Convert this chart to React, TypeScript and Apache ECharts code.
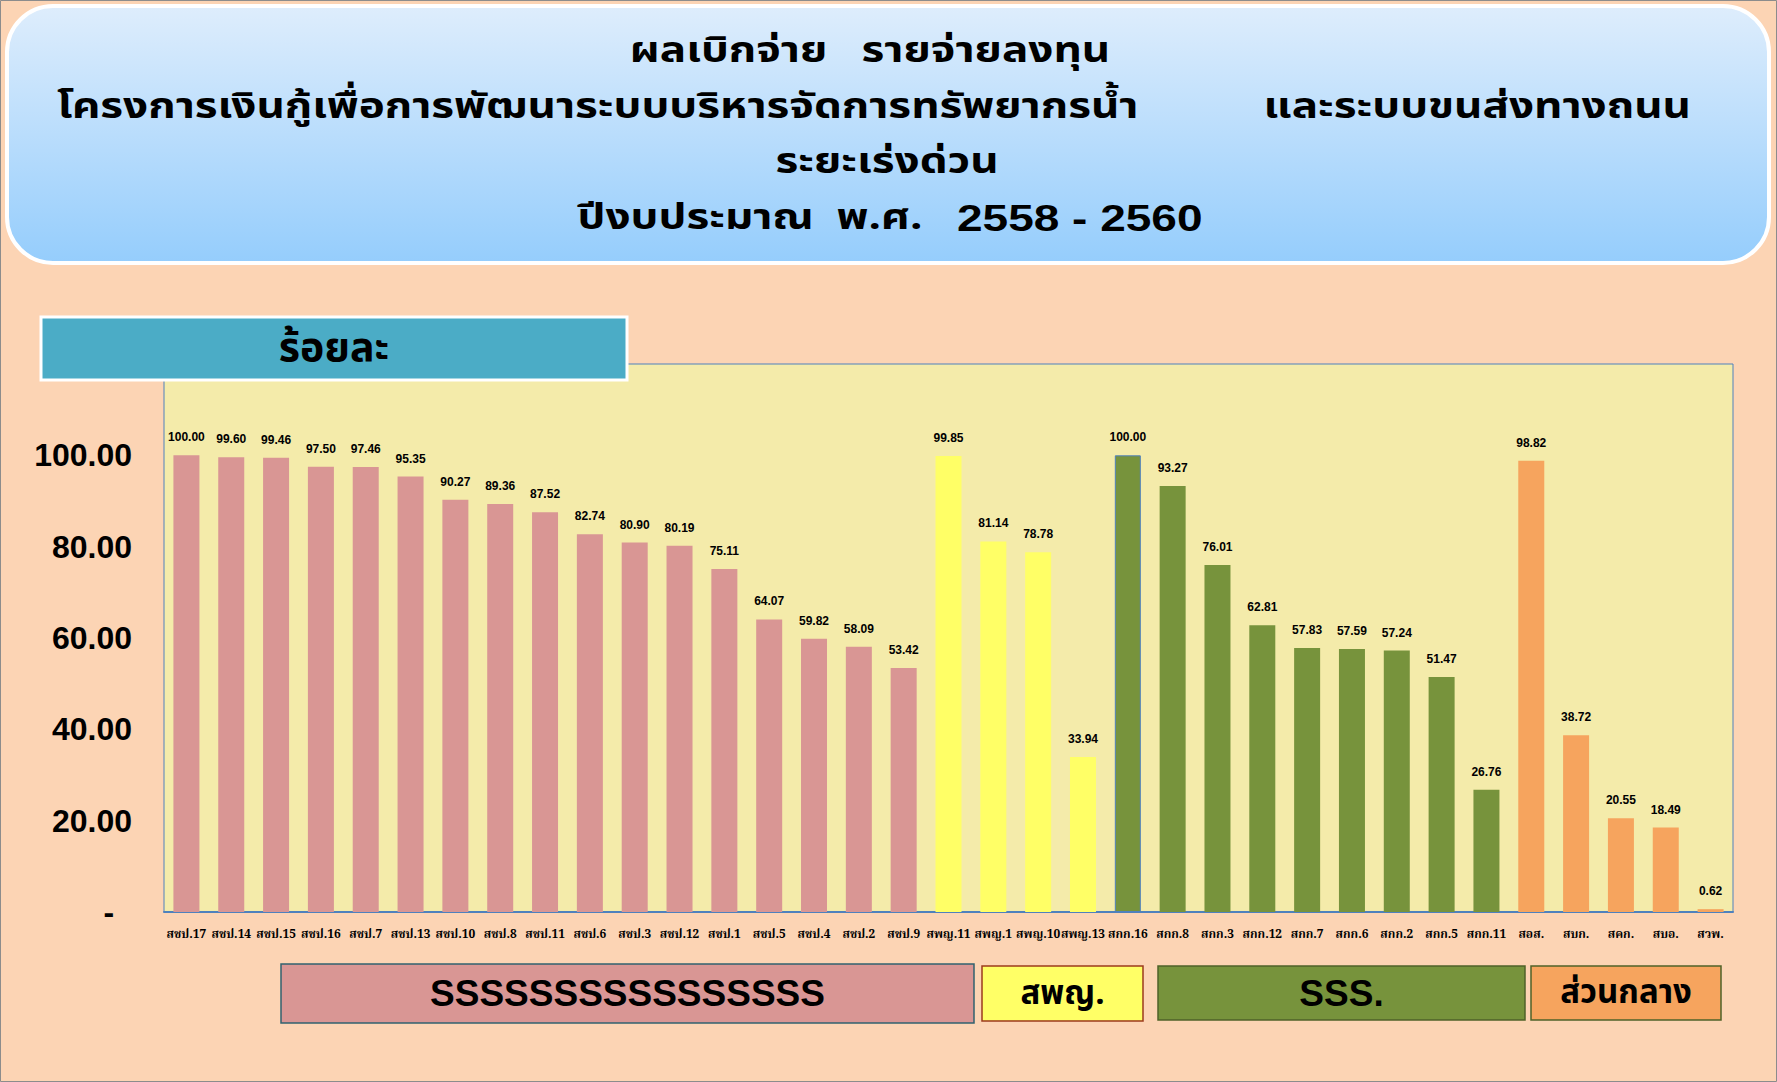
import React, { useEffect, useRef } from "react";
import * as echarts from "echarts";

const pinkCats = ["สชป.17", "สชป.14", "สชป.15", "สชป.16", "สชป.7", "สชป.13", "สชป.10", "สชป.8", "สชป.11", "สชป.6", "สชป.3", "สชป.12", "สชป.1", "สชป.5", "สชป.4", "สชป.2", "สชป.9"];
const pinkVals = [100.0, 99.6, 99.46, 97.5, 97.46, 95.35, 90.27, 89.36, 87.52, 82.74, 80.9, 80.19, 75.11, 64.07, 59.82, 58.09, 53.42];
const yellowCats = ["สพญ.11", "สพญ.1", "สพญ.10", "สพญ.13"];
const yellowVals = [99.85, 81.14, 78.78, 33.94];
const greenCats = ["สกก.16", "สกก.8", "สกก.3", "สกก.12", "สกก.7", "สกก.6", "สกก.2", "สกก.5", "สกก.11"];
const greenVals = [100.0, 93.27, 76.01, 62.81, 57.83, 57.59, 57.24, 51.47, 26.76];
const orangeCats = ["สอส.", "สบก.", "สคก.", "สบอ.", "สวพ."];
const orangeVals = [98.82, 38.72, 20.55, 18.49, 0.62];

const yTicks = [0, 20, 40, 60, 80, 100, 120];

const PINK = "#D99694";
const YELLOW = "#FFFF66";
const GREEN = "#77933C";
const ORANGE = "#F6A45E";

const THAI = "'Noto Sans Thai', 'Noto Serif Thai', 'Loma', 'Garuda', 'Tlwg Typo', 'Noto Sans', sans-serif";
const THAI_SERIF = "'Noto Serif Thai', 'Noto Sans Thai', 'Loma', 'Garuda', serif";

export default function App() {
  const ref = useRef<HTMLDivElement>(null);
  useEffect(() => {
    if (!ref.current) return;
    const chart = echarts.init(ref.current, null, { renderer: "svg" });
    const groups = [
      { cats: pinkCats, vals: pinkVals, color: PINK },
      { cats: yellowCats, vals: yellowVals, color: YELLOW },
      { cats: greenCats, vals: greenVals, color: GREEN },
      { cats: orangeCats, vals: orangeVals, color: ORANGE },
    ];
    const categories: string[] = [];
    const data: any[] = [];
    groups.forEach((g, gi) => {
      g.cats.forEach((c, i) => {
        categories.push(c);
        const item: any = { value: g.vals[i], itemStyle: { color: g.color } };
        if (gi === 2 && i === 0) item.itemStyle = { color: g.color, borderColor: "#4F81BD", borderWidth: 1 };
        data.push(item);
      });
    });

    const legendBox = (x: number, y: number, w: number, h: number, fill: string, stroke: string, text: string, font: string) => ({
      type: "group",
      children: [
        { type: "rect", shape: { x, y, width: w, height: h }, style: { fill, stroke, lineWidth: 1.5 } },
        {
          type: "text",
          x: x + w / 2,
          y: y + h / 2,
          style: { text, fill: "#000", font, align: "center", verticalAlign: "middle" },
        },
      ],
    });

    const titleFont = `bold 44px ${THAI}`;
    const LH = 48;
    const SY = 0.8;

    chart.setOption({
      animation: false,
      backgroundColor: "#FCD4B4",
      grid: {
        left: 164,
        top: 364,
        width: 1569,
        height: 548,
        show: true,
        backgroundColor: "#F4EBAA",
        borderColor: "#4F81BD",
        borderWidth: 1,
        containLabel: false,
      },
      xAxis: {
        type: "category",
        data: categories,
        axisTick: { show: false },
        axisLine: { show: true, lineStyle: { color: "#4F81BD", width: 2 } },
        axisLabel: {
          interval: 0,
          color: "#000",
          fontSize: 12,
          fontWeight: "bold",
          fontFamily: THAI_SERIF,
          margin: 16,
        },
      },
      yAxis: {
        type: "value",
        min: yTicks[0],
        max: yTicks[yTicks.length - 1],
        interval: 20,
        splitLine: { show: false },
        axisLine: { show: false },
        axisTick: { show: false },
        axisLabel: {
          showMaxLabel: false,
          color: "#000",
          fontSize: 32,
          fontWeight: "bold",
          fontFamily: "'Liberation Sans', Arial, sans-serif",
          margin: 32,
          formatter: (v: number) => (v === 0 ? "-\u00a0\u00a0" : v.toFixed(2)),
        },
      },
      series: [
        {
          type: "bar",
          data,
          barWidth: 26,
          label: {
            show: true,
            position: "top",
            distance: 12,
            color: "#000",
            fontSize: 12,
            fontWeight: "bold",
            fontFamily: "'Liberation Sans', Arial, sans-serif",
            formatter: (p: any) => Number(p.value).toFixed(2),
          },
        },
      ],
      graphic: [
        {
          type: "rect",
          shape: { x: 7, y: 6, width: 1762, height: 257, r: 46 },
          style: {
            fill: new echarts.graphic.LinearGradient(0, 0, 0, 1, [
              { offset: 0, color: "#DEEDFC" },
              { offset: 1, color: "#95CDFC" },
            ]),
            stroke: "#FFFFFF",
            lineWidth: 4,
          },
        },
        {
          type: "text",
          x: 870,
          y: 51,
          scaleY: SY,
          style: { text: "ผลเบิกจ่าย   รายจ่ายลงทุน", font: titleFont, lineHeight: LH, fill: "#000", align: "center", verticalAlign: "middle" },
        },
        {
          type: "text",
          x: 57,
          y: 107,
          scaleY: SY,
          style: {
            text: "โครงการเงินกู้เพื่อการพัฒนาระบบบริหารจัดการทรัพยากรน้ำ",
            font: titleFont,
            lineHeight: LH,
            fill: "#000",
            align: "left",
            verticalAlign: "middle",
          },
        },
        {
          type: "text",
          x: 1691,
          y: 107,
          scaleY: SY,
          style: {
            text: "และระบบขนส่งทางถนน",
            font: titleFont,
            lineHeight: LH,
            fill: "#000",
            align: "right",
            verticalAlign: "middle",
          },
        },
        {
          type: "text",
          x: 887,
          y: 162,
          scaleY: SY,
          style: { text: "ระยะเร่งด่วน", font: titleFont, lineHeight: LH, fill: "#000", align: "center", verticalAlign: "middle" },
        },
        {
          type: "text",
          x: 890,
          y: 218,
          scaleY: SY,
          style: {
            text: "{t|ปีงบประมาณ  พ.ศ.   }{n|2558 - 2560}",
            align: "center",
            verticalAlign: "middle",
            rich: {
              t: { font: titleFont, fill: "#000", lineHeight: LH },
              n: { font: "bold 46px 'Liberation Sans', Arial, sans-serif", fill: "#000", lineHeight: LH },
            },
          },
        },
        {
          type: "rect",
          shape: { x: 41, y: 317, width: 586, height: 63 },
          style: { fill: "#4BACC6", stroke: "#FFFFFF", lineWidth: 3 },
        },
        {
          type: "text",
          x: 334,
          y: 348,
          style: { text: "ร้อยละ", font: `bold 41px ${THAI}`, lineHeight: 48, fill: "#000", align: "center", verticalAlign: "middle" },
        },
        legendBox(281, 964, 693, 59, PINK, "#31626F", "SSSSSSSSSSSSSSSS", "bold 37px 'Liberation Sans Narrow', 'Liberation Sans', Arial, sans-serif"),
        legendBox(982, 966, 161, 55, YELLOW, "#9C3B1D", "สพญ.", `bold 33px ${THAI}`),
        legendBox(1158, 966, 367, 54, GREEN, "#4F6228", "SSS.", "bold 37px 'Liberation Sans Narrow', 'Liberation Sans', Arial, sans-serif"),
        legendBox(1531, 966, 190, 54, ORANGE, "#4F6228", "ส่วนกลาง", `bold 33px ${THAI}`),
        {
          type: "rect",
          shape: { x: 0.5, y: 0.5, width: 1776, height: 1081 },
          style: { fill: "none", stroke: "#8C8C8C", lineWidth: 1 },
          silent: true,
        },
      ],
    });
    return () => chart.dispose();
  }, []);
  return (
    <div
      ref={ref}
      style={{ position: "fixed", left: 0, top: 0, width: 1777, height: 1082 }}
    />
  );
}
